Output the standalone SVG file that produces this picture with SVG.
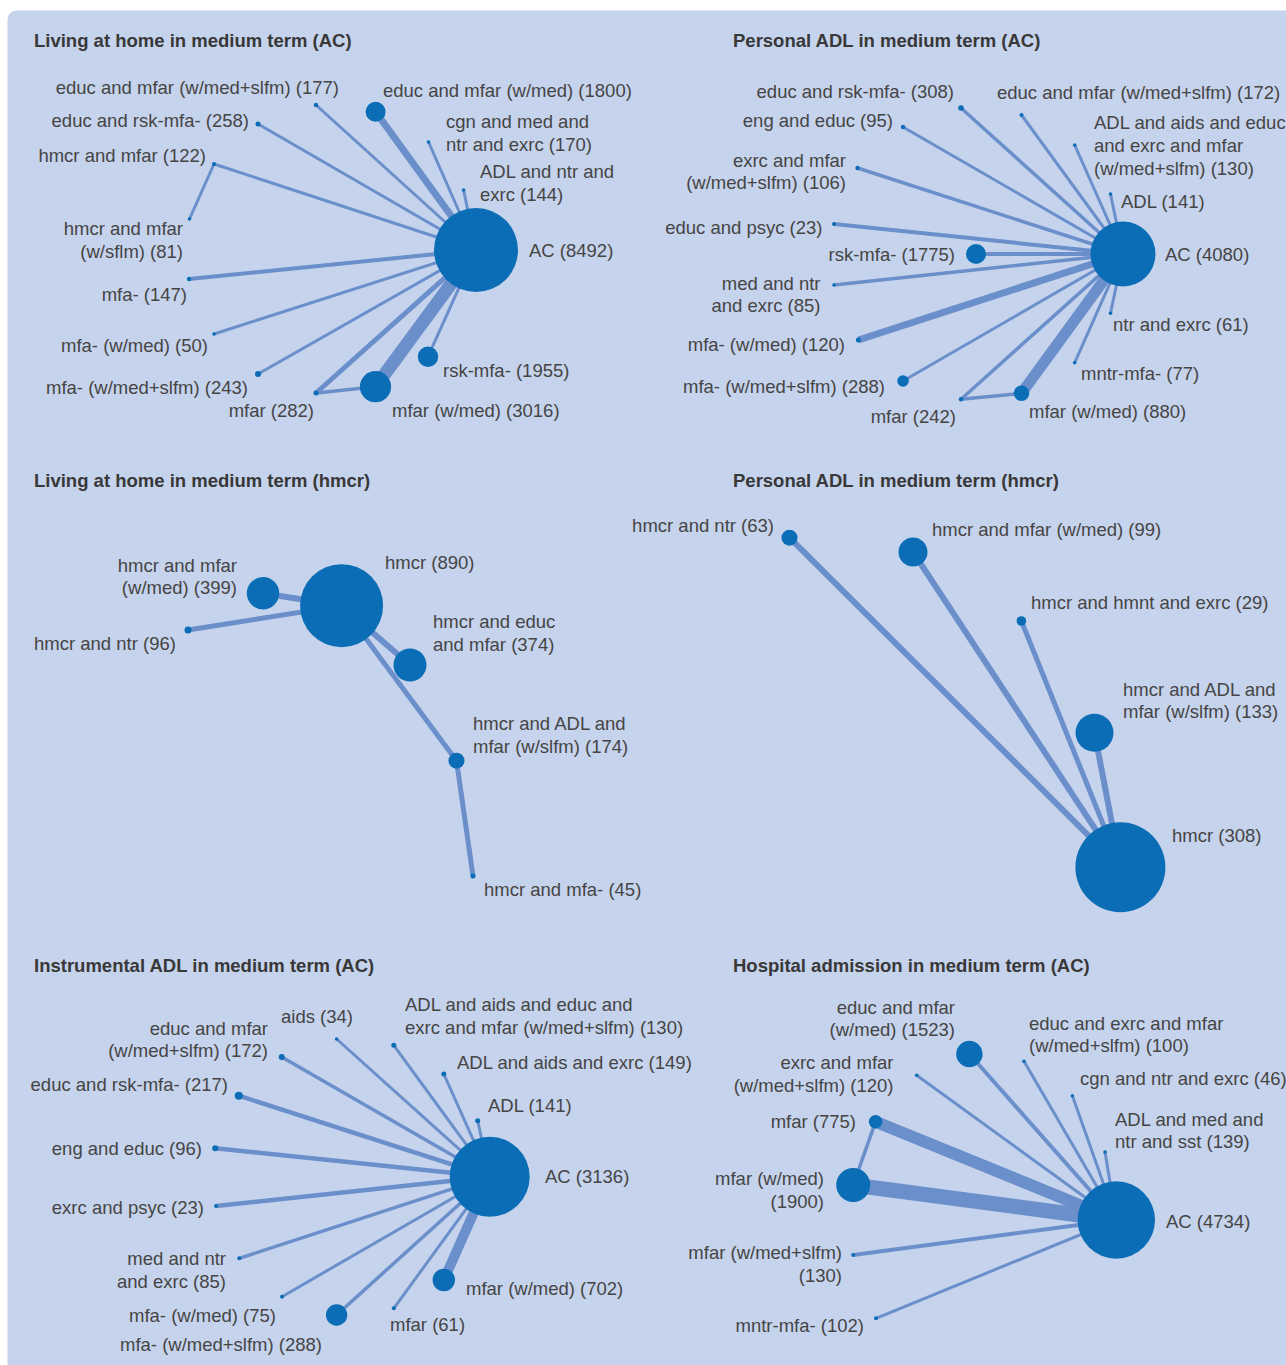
<svg xmlns="http://www.w3.org/2000/svg" width="1286" height="1365" viewBox="0 0 1286 1365">
<style>
.bg{fill:#c6d3ec}
.t{font-family:"Liberation Sans",Arial,sans-serif;font-size:18.5px;fill:#454545}
.h{font-family:"Liberation Sans",Arial,sans-serif;font-size:18.5px;font-weight:bold;fill:#383838}
.e{stroke:#6a8fcb;fill:none;stroke-linecap:butt}
.n{fill:#0a6db6}
.r{text-anchor:end}
</style>
<rect x="0" y="0" width="1286" height="1365" fill="#ffffff"/>
<rect class="bg" x="7.5" y="10.5" width="1300" height="1380" rx="9"/>

<g id="titles">
<text class="h" x="34" y="46.5">Living at home in medium term (AC)</text>
<text class="h" x="733" y="46.5">Personal ADL in medium term (AC)</text>
<text class="h" x="34" y="486.5">Living at home in medium term (hmcr)</text>
<text class="h" x="733" y="486.5">Personal ADL in medium term (hmcr)</text>
<text class="h" x="34" y="971.5">Instrumental ADL in medium term (AC)</text>
<text class="h" x="733" y="971.5">Hospital admission in medium term (AC)</text>
</g>

<g id="connectors">
<!-- panel 1 -->
<line class="e" x1="476" y1="250" x2="316" y2="105" stroke-width="3"/>
<line class="e" x1="476" y1="250" x2="258" y2="124" stroke-width="3"/>
<line class="e" x1="476" y1="250" x2="214" y2="164" stroke-width="3"/>
<line class="e" x1="214" y1="164" x2="189.5" y2="219" stroke-width="3"/>
<line class="e" x1="476" y1="250" x2="189" y2="279" stroke-width="4"/>
<line class="e" x1="476" y1="250" x2="214" y2="334" stroke-width="3"/>
<line class="e" x1="476" y1="250" x2="258" y2="374" stroke-width="3"/>
<line class="e" x1="476" y1="250" x2="316" y2="393" stroke-width="5"/>
<line class="e" x1="316" y1="393" x2="375.5" y2="386.7" stroke-width="3.5"/>
<line class="e" x1="476" y1="250" x2="375.5" y2="386.7" stroke-width="13"/>
<line class="e" x1="476" y1="250" x2="428" y2="356.7" stroke-width="3"/>
<line class="e" x1="476" y1="250" x2="428.5" y2="142" stroke-width="3"/>
<line class="e" x1="476" y1="250" x2="463.6" y2="190" stroke-width="3"/>
<line class="e" x1="476" y1="250" x2="375.6" y2="111.7" stroke-width="7"/>
<!-- panel 2 -->
<line class="e" x1="1123" y1="254" x2="961" y2="108" stroke-width="3.5"/>
<line class="e" x1="1123" y1="254" x2="903" y2="127" stroke-width="3"/>
<line class="e" x1="1123" y1="254" x2="857.5" y2="168" stroke-width="3.5"/>
<line class="e" x1="1123" y1="254" x2="834" y2="224" stroke-width="4"/>
<line class="e" x1="1123" y1="254" x2="976" y2="254" stroke-width="4"/>
<line class="e" x1="1123" y1="254" x2="834" y2="285" stroke-width="3.5"/>
<line class="e" x1="1123" y1="254" x2="858.4" y2="340" stroke-width="7"/>
<line class="e" x1="1123" y1="254" x2="903" y2="381" stroke-width="3"/>
<line class="e" x1="1123" y1="254" x2="961" y2="399.3" stroke-width="3.5"/>
<line class="e" x1="961" y1="399.3" x2="1021.5" y2="393.3" stroke-width="3.5"/>
<line class="e" x1="1123" y1="254" x2="1021.5" y2="393.3" stroke-width="11"/>
<line class="e" x1="1123" y1="254" x2="1074.7" y2="362.7" stroke-width="3"/>
<line class="e" x1="1123" y1="254" x2="1110.5" y2="313.3" stroke-width="3"/>
<line class="e" x1="1123" y1="254" x2="1110.5" y2="194" stroke-width="3"/>
<line class="e" x1="1123" y1="254" x2="1074.7" y2="145" stroke-width="3"/>
<line class="e" x1="1123" y1="254" x2="1021.5" y2="115" stroke-width="3"/>
<!-- panel 3 -->
<line class="e" x1="341.6" y1="605.7" x2="263" y2="593.3" stroke-width="6"/>
<line class="e" x1="341.6" y1="605.7" x2="188" y2="630" stroke-width="5"/>
<line class="e" x1="341.6" y1="605.7" x2="410" y2="665" stroke-width="6"/>
<line class="e" x1="341.6" y1="605.7" x2="456.5" y2="760.7" stroke-width="5"/>
<line class="e" x1="456.5" y1="760.7" x2="473" y2="876" stroke-width="5"/>
<!-- panel 4 -->
<line class="e" x1="1120.4" y1="867.3" x2="789.5" y2="537.7" stroke-width="6"/>
<line class="e" x1="1120.4" y1="867.3" x2="913" y2="552" stroke-width="6"/>
<line class="e" x1="1120.4" y1="867.3" x2="1021.4" y2="621" stroke-width="5"/>
<line class="e" x1="1120.4" y1="867.3" x2="1094.5" y2="732.7" stroke-width="6"/>
<!-- panel 5 -->
<line class="e" x1="489.7" y1="1176.7" x2="336.6" y2="1039" stroke-width="3"/>
<line class="e" x1="489.7" y1="1176.7" x2="281.7" y2="1057" stroke-width="3.5"/>
<line class="e" x1="489.7" y1="1176.7" x2="238.8" y2="1095.7" stroke-width="4.5"/>
<line class="e" x1="489.7" y1="1176.7" x2="215.2" y2="1148.3" stroke-width="4.5"/>
<line class="e" x1="489.7" y1="1176.7" x2="216" y2="1206" stroke-width="4.5"/>
<line class="e" x1="489.7" y1="1176.7" x2="239.3" y2="1258.3" stroke-width="3.5"/>
<line class="e" x1="489.7" y1="1176.7" x2="282" y2="1296.7" stroke-width="3"/>
<line class="e" x1="489.7" y1="1176.7" x2="336.6" y2="1315" stroke-width="3.5"/>
<line class="e" x1="489.7" y1="1176.7" x2="393.8" y2="1308.3" stroke-width="3"/>
<line class="e" x1="489.7" y1="1176.7" x2="443.8" y2="1280" stroke-width="10"/>
<line class="e" x1="489.7" y1="1176.7" x2="477.7" y2="1120.7" stroke-width="3"/>
<line class="e" x1="489.7" y1="1176.7" x2="443.8" y2="1074" stroke-width="3"/>
<line class="e" x1="489.7" y1="1176.7" x2="393.8" y2="1045.3" stroke-width="3"/>
<!-- panel 6 -->
<line class="e" x1="1116.3" y1="1220" x2="969.4" y2="1054" stroke-width="4"/>
<line class="e" x1="1116.3" y1="1220" x2="1024" y2="1061.3" stroke-width="3"/>
<line class="e" x1="1116.3" y1="1220" x2="1072.4" y2="1095.7" stroke-width="3"/>
<line class="e" x1="1116.3" y1="1220" x2="1105" y2="1152" stroke-width="3"/>
<line class="e" x1="1116.3" y1="1220" x2="916.7" y2="1075.3" stroke-width="3"/>
<line class="e" x1="1116.3" y1="1220" x2="875.6" y2="1121.7" stroke-width="12"/>
<line class="e" x1="875.6" y1="1121.7" x2="853.2" y2="1185" stroke-width="3.5"/>
<line class="e" x1="1116.3" y1="1220" x2="853.2" y2="1185" stroke-width="15"/>
<line class="e" x1="1116.3" y1="1220" x2="853.2" y2="1255" stroke-width="4"/>
<line class="e" x1="1116.3" y1="1220" x2="876" y2="1318.3" stroke-width="3"/>
</g>

<!-- Panel 1 nodes -->
<g id="p1-ac"><circle class="n" cx="476" cy="250" r="42"/><text class="t" x="529" y="256.5">AC (8492)</text></g>
<g id="p1-educ-mfar-wmedslfm"><circle class="n" cx="316" cy="105" r="2.2"/><text class="t r" x="339" y="93.5">educ and mfar (w/med+slfm) (177)</text></g>
<g id="p1-educ-mfar-wmed"><circle class="n" cx="375.6" cy="111.7" r="10"/><text class="t" x="383" y="96.5">educ and mfar (w/med) (1800)</text></g>
<g id="p1-educ-rsk"><circle class="n" cx="258" cy="124" r="2.5"/><text class="t r" x="249" y="126.5">educ and rsk-mfa- (258)</text></g>
<g id="p1-cgn"><circle class="n" cx="428.5" cy="142" r="1.8"/><text class="t" x="446" y="127.5">cgn and med and</text><text class="t" x="446" y="150.5">ntr and exrc (170)</text></g>
<g id="p1-hmcr-mfar"><circle class="n" cx="214" cy="164" r="2"/><text class="t r" x="206" y="161.5">hmcr and mfar (122)</text></g>
<g id="p1-adl-ntr"><circle class="n" cx="463.6" cy="190" r="1.8"/><text class="t" x="480" y="177.5">ADL and ntr and</text><text class="t" x="480" y="200.5">exrc (144)</text></g>
<g id="p1-hmcr-mfar-wsflm"><circle class="n" cx="189.5" cy="219" r="1.8"/><text class="t r" x="183" y="234.5">hmcr and mfar</text><text class="t r" x="183" y="257.5">(w/sflm) (81)</text></g>
<g id="p1-mfa"><circle class="n" cx="189" cy="279" r="2.2"/><text class="t r" x="187" y="300.5">mfa- (147)</text></g>
<g id="p1-mfa-wmed"><circle class="n" cx="214" cy="334" r="1.8"/><text class="t r" x="208" y="351.5">mfa- (w/med) (50)</text></g>
<g id="p1-rsk"><circle class="n" cx="428" cy="356.7" r="10.2"/><text class="t" x="443" y="376.5">rsk-mfa- (1955)</text></g>
<g id="p1-mfa-wmedslfm"><circle class="n" cx="258" cy="374" r="3"/><text class="t r" x="248" y="393.5">mfa- (w/med+slfm) (243)</text></g>
<g id="p1-mfar"><circle class="n" cx="316" cy="393" r="2.5"/><text class="t r" x="314" y="416.5">mfar (282)</text></g>
<g id="p1-mfar-wmed"><circle class="n" cx="375.5" cy="386.7" r="15.6"/><text class="t" x="392" y="416.5">mfar (w/med) (3016)</text></g>

<!-- Panel 2 nodes -->
<g id="p2-ac"><circle class="n" cx="1123" cy="254" r="32.5"/><text class="t" x="1165" y="260.5">AC (4080)</text></g>
<g id="p2-educ-rsk"><circle class="n" cx="961" cy="108" r="2.8"/><text class="t r" x="954" y="97.5">educ and rsk-mfa- (308)</text></g>
<g id="p2-educ-mfar"><circle class="n" cx="1021.5" cy="115" r="2"/><text class="t" x="997" y="98.5">educ and mfar (w/med+slfm) (172)</text></g>
<g id="p2-eng-educ"><circle class="n" cx="903" cy="127" r="2.2"/><text class="t r" x="893" y="126.5">eng and educ (95)</text></g>
<g id="p2-adl-aids"><circle class="n" cx="1074.7" cy="145" r="1.8"/><text class="t" x="1094" y="128.5">ADL and aids and educ</text><text class="t" x="1094" y="151.5">and exrc and mfar</text><text class="t" x="1094" y="174.5">(w/med+slfm) (130)</text></g>
<g id="p2-exrc-mfar"><circle class="n" cx="857.5" cy="168" r="2.2"/><text class="t r" x="846" y="166.5">exrc and mfar</text><text class="t r" x="846" y="188.5">(w/med+slfm) (106)</text></g>
<g id="p2-adl"><circle class="n" cx="1110.5" cy="194" r="1.8"/><text class="t" x="1121" y="207.5">ADL (141)</text></g>
<g id="p2-educ-psyc"><circle class="n" cx="834" cy="224" r="2"/><text class="t r" x="822.5" y="233.5">educ and psyc (23)</text></g>
<g id="p2-rsk"><circle class="n" cx="976" cy="254" r="10"/><text class="t r" x="955" y="260.5">rsk-mfa- (1775)</text></g>
<g id="p2-med-ntr"><circle class="n" cx="834" cy="285" r="1.8"/><text class="t r" x="820.5" y="289.5">med and ntr</text><text class="t r" x="820.5" y="311.5">and exrc (85)</text></g>
<g id="p2-ntr-exrc"><circle class="n" cx="1110.5" cy="313.3" r="1.8"/><text class="t" x="1113" y="330.5">ntr and exrc (61)</text></g>
<g id="p2-mfa-wmed"><circle class="n" cx="858.4" cy="340" r="2.5"/><text class="t r" x="845" y="350.5">mfa- (w/med) (120)</text></g>
<g id="p2-mntr"><circle class="n" cx="1074.7" cy="362.7" r="1.8"/><text class="t" x="1081" y="379.5">mntr-mfa- (77)</text></g>
<g id="p2-mfa-wmedslfm"><circle class="n" cx="903" cy="381" r="5.8"/><text class="t r" x="885" y="392.5">mfa- (w/med+slfm) (288)</text></g>
<g id="p2-mfar"><circle class="n" cx="961" cy="399.3" r="2.2"/><text class="t r" x="956" y="422.5">mfar (242)</text></g>
<g id="p2-mfar-wmed"><circle class="n" cx="1021.5" cy="393.3" r="7.8"/><text class="t" x="1029" y="417.5">mfar (w/med) (880)</text></g>

<!-- Panel 3 nodes -->
<g id="p3-hmcr"><circle class="n" cx="341.6" cy="605.7" r="41.5"/><text class="t" x="385" y="568.5">hmcr (890)</text></g>
<g id="p3-hmcr-mfar"><circle class="n" cx="263" cy="593.3" r="16.2"/><text class="t r" x="237" y="571.5">hmcr and mfar</text><text class="t r" x="237" y="593.5">(w/med) (399)</text></g>
<g id="p3-hmcr-ntr"><circle class="n" cx="188" cy="630" r="3.5"/><text class="t" x="34" y="649.5">hmcr and ntr (96)</text></g>
<g id="p3-hmcr-educ"><circle class="n" cx="410" cy="665" r="16.5"/><text class="t" x="433" y="627.5">hmcr and educ</text><text class="t" x="433" y="650.5">and mfar (374)</text></g>
<g id="p3-hmcr-adl"><circle class="n" cx="456.5" cy="760.7" r="8"/><text class="t" x="473" y="729.5">hmcr and ADL and</text><text class="t" x="473" y="752.5">mfar (w/slfm) (174)</text></g>
<g id="p3-hmcr-mfa"><circle class="n" cx="473" cy="876" r="2.5"/><text class="t" x="484" y="895.5">hmcr and mfa- (45)</text></g>

<!-- Panel 4 nodes -->
<g id="p4-hmcr"><circle class="n" cx="1120.4" cy="867.3" r="45"/><text class="t" x="1172" y="841.5">hmcr (308)</text></g>
<g id="p4-hmcr-ntr"><circle class="n" cx="789.5" cy="537.7" r="8"/><text class="t r" x="774" y="531.5">hmcr and ntr (63)</text></g>
<g id="p4-hmcr-mfar"><circle class="n" cx="913" cy="552" r="14.5"/><text class="t" x="932" y="535.5">hmcr and mfar (w/med) (99)</text></g>
<g id="p4-hmcr-hmnt"><circle class="n" cx="1021.4" cy="621" r="4.8"/><text class="t" x="1031" y="608.5">hmcr and hmnt and exrc (29)</text></g>
<g id="p4-hmcr-adl"><circle class="n" cx="1094.5" cy="732.7" r="19"/><text class="t" x="1123" y="695.5">hmcr and ADL and</text><text class="t" x="1123" y="717.5">mfar (w/slfm) (133)</text></g>

<!-- Panel 5 nodes -->
<g id="p5-ac"><circle class="n" cx="489.7" cy="1176.7" r="40"/><text class="t" x="545" y="1182.5">AC (3136)</text></g>
<g id="p5-adl-aids-educ"><circle class="n" cx="393.8" cy="1045.3" r="2.5"/><text class="t" x="405" y="1010.5">ADL and aids and educ and</text><text class="t" x="405" y="1033.5">exrc and mfar (w/med+slfm) (130)</text></g>
<g id="p5-aids"><circle class="n" cx="336.6" cy="1039" r="1.8"/><text class="t" x="281" y="1022.5">aids (34)</text></g>
<g id="p5-educ-mfar"><circle class="n" cx="281.7" cy="1057" r="3"/><text class="t r" x="268" y="1034.5">educ and mfar</text><text class="t r" x="268" y="1056.5">(w/med+slfm) (172)</text></g>
<g id="p5-adl-aids-exrc"><circle class="n" cx="443.8" cy="1074" r="2.5"/><text class="t" x="457" y="1068.5">ADL and aids and exrc (149)</text></g>
<g id="p5-educ-rsk"><circle class="n" cx="238.8" cy="1095.7" r="4"/><text class="t r" x="228" y="1090.5">educ and rsk-mfa- (217)</text></g>
<g id="p5-adl"><circle class="n" cx="477.7" cy="1120.7" r="2.5"/><text class="t" x="488" y="1111.5">ADL (141)</text></g>
<g id="p5-eng-educ"><circle class="n" cx="215.2" cy="1148.3" r="3"/><text class="t r" x="202" y="1154.5">eng and educ (96)</text></g>
<g id="p5-exrc-psyc"><circle class="n" cx="216" cy="1206" r="2"/><text class="t r" x="204" y="1213.5">exrc and psyc (23)</text></g>
<g id="p5-med-ntr"><circle class="n" cx="239.3" cy="1258.3" r="2"/><text class="t r" x="226" y="1264.5">med and ntr</text><text class="t r" x="226" y="1287.5">and exrc (85)</text></g>
<g id="p5-mfar-wmed"><circle class="n" cx="443.8" cy="1280" r="11.2"/><text class="t" x="466" y="1294.5">mfar (w/med) (702)</text></g>
<g id="p5-mfa-wmed"><circle class="n" cx="282" cy="1296.7" r="2"/><text class="t r" x="276" y="1321.5">mfa- (w/med) (75)</text></g>
<g id="p5-mfar"><circle class="n" cx="393.8" cy="1308.3" r="2"/><text class="t" x="390" y="1330.5">mfar (61)</text></g>
<g id="p5-mfa-wmedslfm"><circle class="n" cx="336.6" cy="1315" r="10.7"/><text class="t" x="120" y="1350.5">mfa- (w/med+slfm) (288)</text></g>

<!-- Panel 6 nodes -->
<g id="p6-ac"><circle class="n" cx="1116.3" cy="1220" r="38.7"/><text class="t" x="1166" y="1227.5">AC (4734)</text></g>
<g id="p6-educ-mfar"><circle class="n" cx="969.4" cy="1054" r="13.2"/><text class="t r" x="955" y="1013.5">educ and mfar</text><text class="t r" x="955" y="1035.5">(w/med) (1523)</text></g>
<g id="p6-educ-exrc-mfar"><circle class="n" cx="1024" cy="1061.3" r="1.8"/><text class="t" x="1029" y="1029.5">educ and exrc and mfar</text><text class="t" x="1029" y="1051.5">(w/med+slfm) (100)</text></g>
<g id="p6-exrc-mfar"><circle class="n" cx="916.7" cy="1075.3" r="1.8"/><text class="t r" x="893.5" y="1068.5">exrc and mfar</text><text class="t r" x="893.5" y="1091.5">(w/med+slfm) (120)</text></g>
<g id="p6-cgn"><circle class="n" cx="1072.4" cy="1095.7" r="1.8"/><text class="t" x="1080" y="1084.5">cgn and ntr and exrc (46)</text></g>
<g id="p6-adl-med"><circle class="n" cx="1105" cy="1152" r="1.8"/><text class="t" x="1115" y="1125.5">ADL and med and</text><text class="t" x="1115" y="1147.5">ntr and sst (139)</text></g>
<g id="p6-mfar"><circle class="n" cx="875.6" cy="1121.7" r="6.8"/><text class="t r" x="856" y="1127.5">mfar (775)</text></g>
<g id="p6-mfar-wmed"><circle class="n" cx="853.2" cy="1185" r="17"/><text class="t r" x="824" y="1184.5">mfar (w/med)</text><text class="t r" x="824" y="1207.5">(1900)</text></g>
<g id="p6-mfar-wmedslfm"><circle class="n" cx="853.2" cy="1255" r="2"/><text class="t r" x="842" y="1258.5">mfar (w/med+slfm)</text><text class="t r" x="842" y="1281.5">(130)</text></g>
<g id="p6-mntr"><circle class="n" cx="876" cy="1318.3" r="2"/><text class="t r" x="864" y="1331.5">mntr-mfa- (102)</text></g>
</svg>
